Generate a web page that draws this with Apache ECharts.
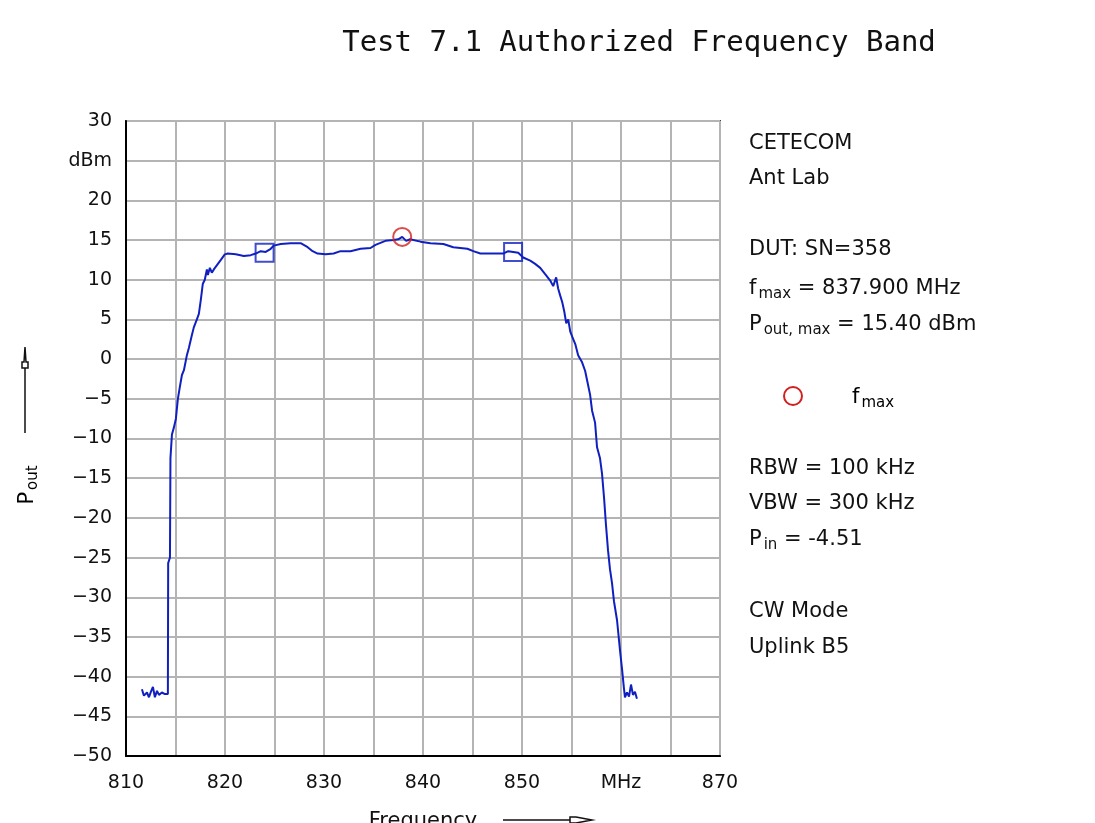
<!DOCTYPE html>
<html>
<head>
<meta charset="utf-8">
<script src="https://cdn.jsdelivr.net/npm/echarts@6/dist/echarts.min.js"></script>
<style>
  html, body { margin: 0; padding: 0; background: #fff; }
  #chart { width: 1095px; height: 823px; }
</style>
</head>
<body>
<div id="chart"></div>
<script>
// 频率 (MHz)
const freqs = [
  811.61, 811.81, 812.12, 812.32, 812.52, 812.72, 812.92, 813.13, 813.33, 813.63, 813.93, 814.23,
  814.26, 814.44, 814.49, 814.64, 814.84, 815.04, 815.24, 815.44, 815.65, 815.85, 816.15, 816.35,
  816.65, 816.85, 817.16, 817.36, 817.56, 817.76, 817.96, 818.17, 818.27, 818.47, 818.67, 818.87,
  819.17, 819.58, 819.98, 820.28, 821.09, 821.90, 822.60, 823.10, 823.61, 824.11, 824.62, 824.92,
  825.63, 826.63, 827.64, 828.35, 828.85, 829.35, 830.16, 830.97, 831.67, 832.68, 833.69, 834.70,
  835.20, 836.21, 837.02, 837.50, 837.90, 838.30, 838.70, 839.74, 840.75, 842.06, 843.06, 844.48,
  845.08, 845.79, 848.10, 848.61, 849.11, 849.62, 850.12, 850.83, 851.33, 851.84, 852.34, 852.85,
  853.15, 853.45, 853.65, 853.86, 854.06, 854.27, 854.47, 854.67, 854.87, 855.08, 855.38, 855.67,
  856.07, 856.38, 856.58, 856.88, 857.08, 857.38, 857.58, 857.88, 858.08, 858.29, 858.49, 858.69,
  858.89, 859.09, 859.29, 859.60, 859.90, 860.10, 860.30, 860.40, 860.60, 860.81, 861.01, 861.21,
  861.41, 861.61
]
// 输出功率 (dBm)
const powers = [
  -41.6, -42.4, -42.0, -42.6, -41.9, -41.3, -42.6, -41.8, -42.3, -42.0, -42.2, -42.2,
  -25.7, -25.0, -12.5, -9.5, -8.6, -7.5, -5.0, -3.5, -2.0, -1.4, 0.5, 1.4,
  3.0, 4.0, 5.0, 5.7, 7.5, 9.5, 10.0, 11.3, 10.6, 11.5, 10.9, 11.3,
  11.8, 12.5, 13.2, 13.3, 13.2, 13.0, 13.1, 13.3, 13.6, 13.5, 13.9, 14.3,
  14.5, 14.6, 14.6, 14.1, 13.6, 13.3, 13.2, 13.3, 13.6, 13.6, 13.9, 14.0,
  14.4, 14.9, 15.0, 15.1, 15.4, 14.9, 15.1, 14.8, 14.6, 14.5, 14.1, 13.9,
  13.6, 13.3, 13.3, 13.6, 13.5, 13.4, 12.8, 12.4, 12.0, 11.5, 10.7, 9.9,
  9.2, 10.3, 8.9, 8.0, 7.2, 6.0, 4.5, 5.0, 3.5, 2.8, 1.9, 0.5,
  -0.4, -1.5, -2.7, -4.5, -6.5, -8.0, -11.1, -12.5, -14.4, -17.5, -21.0, -24.1,
  -26.5, -28.2, -30.5, -32.9, -36.7, -39.0, -41.5, -42.6, -42.0, -42.5, -41.0, -42.3,
  -41.9, -42.8
]
// 方框标记 (频带边缘)
const edgeFreqs = [824.0, 849.1]
const edgePowers = [13.4, 13.5]
// 最大值标记
const maxFreq = [837.9]
const maxPower = [15.4]

// 右侧说明文字
const infoLines = [
  { y: 144, text: 'CETECOM' },
  { y: 179, text: 'Ant Lab' },
  { y: 250, text: 'DUT: SN=358' },
  { y: 289, text: '{n|f}{s|max}{n| = 837.900 MHz}' },
  { y: 325, text: '{n|P}{s|out, max}{n| = 15.40 dBm}' },
  { y: 469, text: 'RBW = 100 kHz' },
  { y: 504, text: 'VBW = 300 kHz' },
  { y: 540, text: '{n|P}{s|in}{n| = -4.51}' },
  { y: 612, text: 'CW Mode' },
  { y: 648, text: 'Uplink B5' }
]

const FONT = '"DejaVu Sans", sans-serif'
const richStyle = {
  n: { fontSize: 21, fontFamily: FONT, color: '#111', lineHeight: 28 },
  s: { fontSize: 15, fontFamily: FONT, color: '#111', lineHeight: 18, padding: [10, 0, 0, 2] }
}

const myChart = echarts.init(document.getElementById('chart'))

const option = {
  animation: false,
  backgroundColor: '#fff',
  grid: {
    left: 126,
    top: 121,
    right: 375,
    bottom: 67,
    show: true,
    borderColor: '#444',
    borderWidth: 2
  },
  xAxis: {
    type: 'value',
    min: 810,
    max: 870,
    interval: 5,
    axisLine: { show: true, onZero: false, lineStyle: { color: '#000', width: 2 } },
    axisTick: { show: false },
    splitLine: { lineStyle: { color: '#b4b4b4', width: 2 } },
    axisLabel: {
      margin: 18,
      color: '#111',
      fontSize: 19,
      fontFamily: FONT,
      formatter: v => (v === 860 ? 'MHz' : v % 10 === 0 ? String(v) : '')
    }
  },
  yAxis: {
    type: 'value',
    min: -50,
    max: 30,
    interval: 5,
    axisLine: { show: true, onZero: false, lineStyle: { color: '#000', width: 2 } },
    axisTick: { show: false },
    splitLine: { lineStyle: { color: '#b4b4b4', width: 2 } },
    axisLabel: {
      margin: 14,
      color: '#111',
      fontSize: 19,
      fontFamily: FONT,
      formatter: v => (v === 25 ? 'dBm' : String(v).replace('-', '\u2212'))
    }
  },
  series: [
    {
      name: 'Pout',
      type: 'line',
      showSymbol: false,
      lineStyle: { color: '#1020c0', width: 2 },
      data: freqs.map((f, i) => [f, powers[i]]),
      z: 3
    },
    {
      name: 'edge',
      type: 'scatter',
      symbol: 'rect',
      symbolSize: 18,
      itemStyle: { color: 'transparent', borderColor: '#1020c0', borderWidth: 2 },
      data: edgeFreqs.map((f, i) => [f, edgePowers[i]]),
      z: 4
    },
    {
      name: 'fmax',
      type: 'scatter',
      symbol: 'circle',
      symbolSize: 18,
      itemStyle: { color: 'transparent', borderColor: '#d02020', borderWidth: 2 },
      data: maxFreq.map((f, i) => [f, maxPower[i]]),
      z: 5
    }
  ],
  graphic: [
    // 标题
    {
      type: 'text',
      x: 639,
      y: 43,
      style: {
        text: 'Test 7.1 Authorized Frequency Band',
        font: '29px "DejaVu Sans Mono", monospace',
        fill: '#111',
        align: 'center',
        verticalAlign: 'middle'
      }
    },
    // 右侧说明
    ...infoLines.map(l => ({
      type: 'text',
      x: 749,
      y: l.y,
      style: {
        text: l.text,
        font: '21px ' + FONT,
        fill: '#111',
        rich: richStyle,
        verticalAlign: 'middle'
      }
    })),
    // 图例: 最大值
    {
      type: 'circle',
      shape: { cx: 793, cy: 396, r: 9 },
      style: { fill: 'none', stroke: '#d02020', lineWidth: 2 }
    },
    {
      type: 'text',
      x: 852,
      y: 398,
      style: {
        text: '{n|f}{s|max}',
        rich: richStyle,
        verticalAlign: 'middle'
      }
    },
    // y 轴名称
    {
      type: 'text',
      x: 28,
      y: 485,
      rotation: Math.PI / 2,
      style: {
        text: '{n|P}{s|out}',
        rich: richStyle,
        align: 'center',
        verticalAlign: 'middle'
      }
    },
    {
      type: 'polyline',
      shape: { points: [[25, 433], [25, 368], [22, 368], [22, 362], [24, 362], [25, 347], [26, 362], [28, 362], [28, 368], [25, 368]] },
      style: { fill: 'none', stroke: '#111', lineWidth: 1.5 }
    },
    // x 轴名称
    {
      type: 'text',
      x: 423,
      y: 822,
      style: {
        text: 'Frequency',
        font: '21px ' + FONT,
        fill: '#111',
        align: 'center',
        verticalAlign: 'middle'
      }
    },
    {
      type: 'polyline',
      shape: { points: [[503, 820], [570, 820], [570, 817], [576, 817], [592, 820], [576, 823], [570, 823], [570, 820]] },
      style: { fill: 'none', stroke: '#111', lineWidth: 1.5 }
    }
  ]
}

myChart.setOption(option)
</script>
</body>
</html>
